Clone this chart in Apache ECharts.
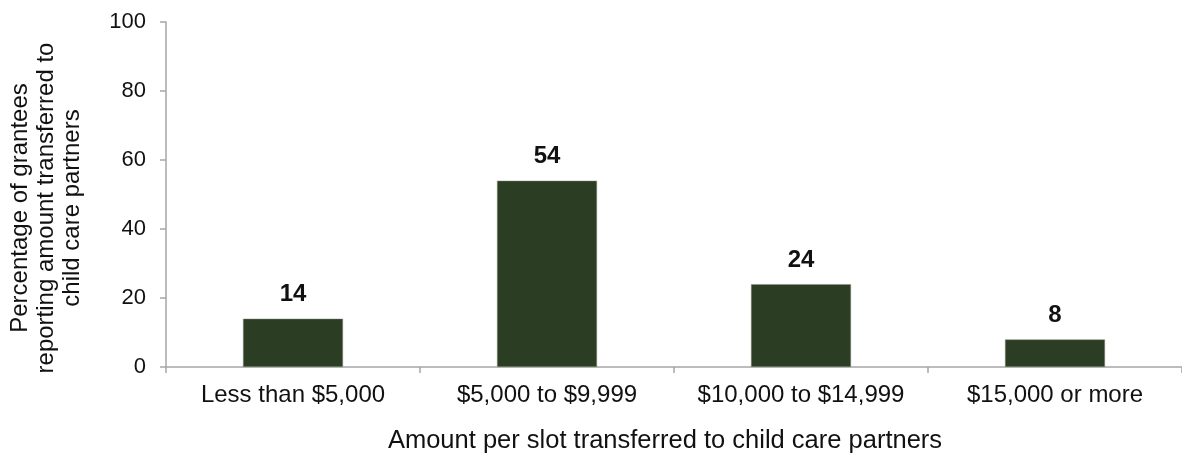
<!DOCTYPE html>
<html><head><meta charset="utf-8">
<script src="https://cdn.jsdelivr.net/npm/echarts@6/dist/echarts.min.js"></script>
<style>html,body{margin:0;padding:0;background:#fff}#c{width:1182px;height:455px}</style>
</head><body><div id="c"></div>
<script>
const categories = ["Less than $5,000", "$5,000 to $9,999", "$10,000 to $14,999", "$15,000 or more"];
const values = [14, 54, 24, 8];
const yTicks = [0, 20, 40, 60, 80, 100];
const yAxisTitle = "Percentage of grantees\nreporting amount transferred to\nchild care partners";
const xAxisTitle = "Amount per slot transferred to child care partners";

const chart = echarts.init(document.getElementById('c'), null, {renderer: 'canvas'});
const font = 'Liberation Sans, Arial, sans-serif';
chart.setOption({
  animation: false,
  grid: {left: 166, top: 22, width: 1020, height: 345, containLabel: false},
  xAxis: {
    type: 'category', data: categories,
    axisLine: {lineStyle: {color: '#a6a6a6', width: 1.5}},
    axisTick: {show: true, interval: 0, alignWithLabel: false, length: 6, lineStyle: {color: '#a6a6a6', width: 1.5}},
    axisLabel: {interval: 0, hideOverlap: false, color: '#111', fontSize: 24, fontFamily: font, margin: 16}
  },
  yAxis: {
    type: 'value', min: yTicks[0], max: yTicks[yTicks.length - 1], interval: 20,
    splitLine: {show: false},
    axisLine: {show: true, lineStyle: {color: '#a6a6a6', width: 1.5}},
    axisTick: {show: true, length: 6, lineStyle: {color: '#a6a6a6', width: 1.5}},
    axisLabel: {color: '#111', fontSize: 22, fontFamily: font, margin: 20}
  },
  series: [{
    type: 'bar', data: values, barWidth: 100,
    itemStyle: {color: '#2b3d22', borderColor: '#8a9284', borderWidth: 0.5},
    label: {show: true, position: 'top', distance: 12, color: '#111', fontSize: 24, fontWeight: 'bold', fontFamily: font}
  }],
  graphic: [
    {type: 'text', x: 46, y: 208, rotation: Math.PI / 2,
     style: {text: yAxisTitle, fill: '#111', font: '24px ' + font, textAlign: 'center', textVerticalAlign: 'middle', lineHeight: 26}},
    {type: 'text', x: 665, y: 441,
     style: {text: xAxisTitle, fill: '#111', font: '25.5px ' + font, textAlign: 'center', textVerticalAlign: 'middle'}}
  ]
});
</script></body></html>
